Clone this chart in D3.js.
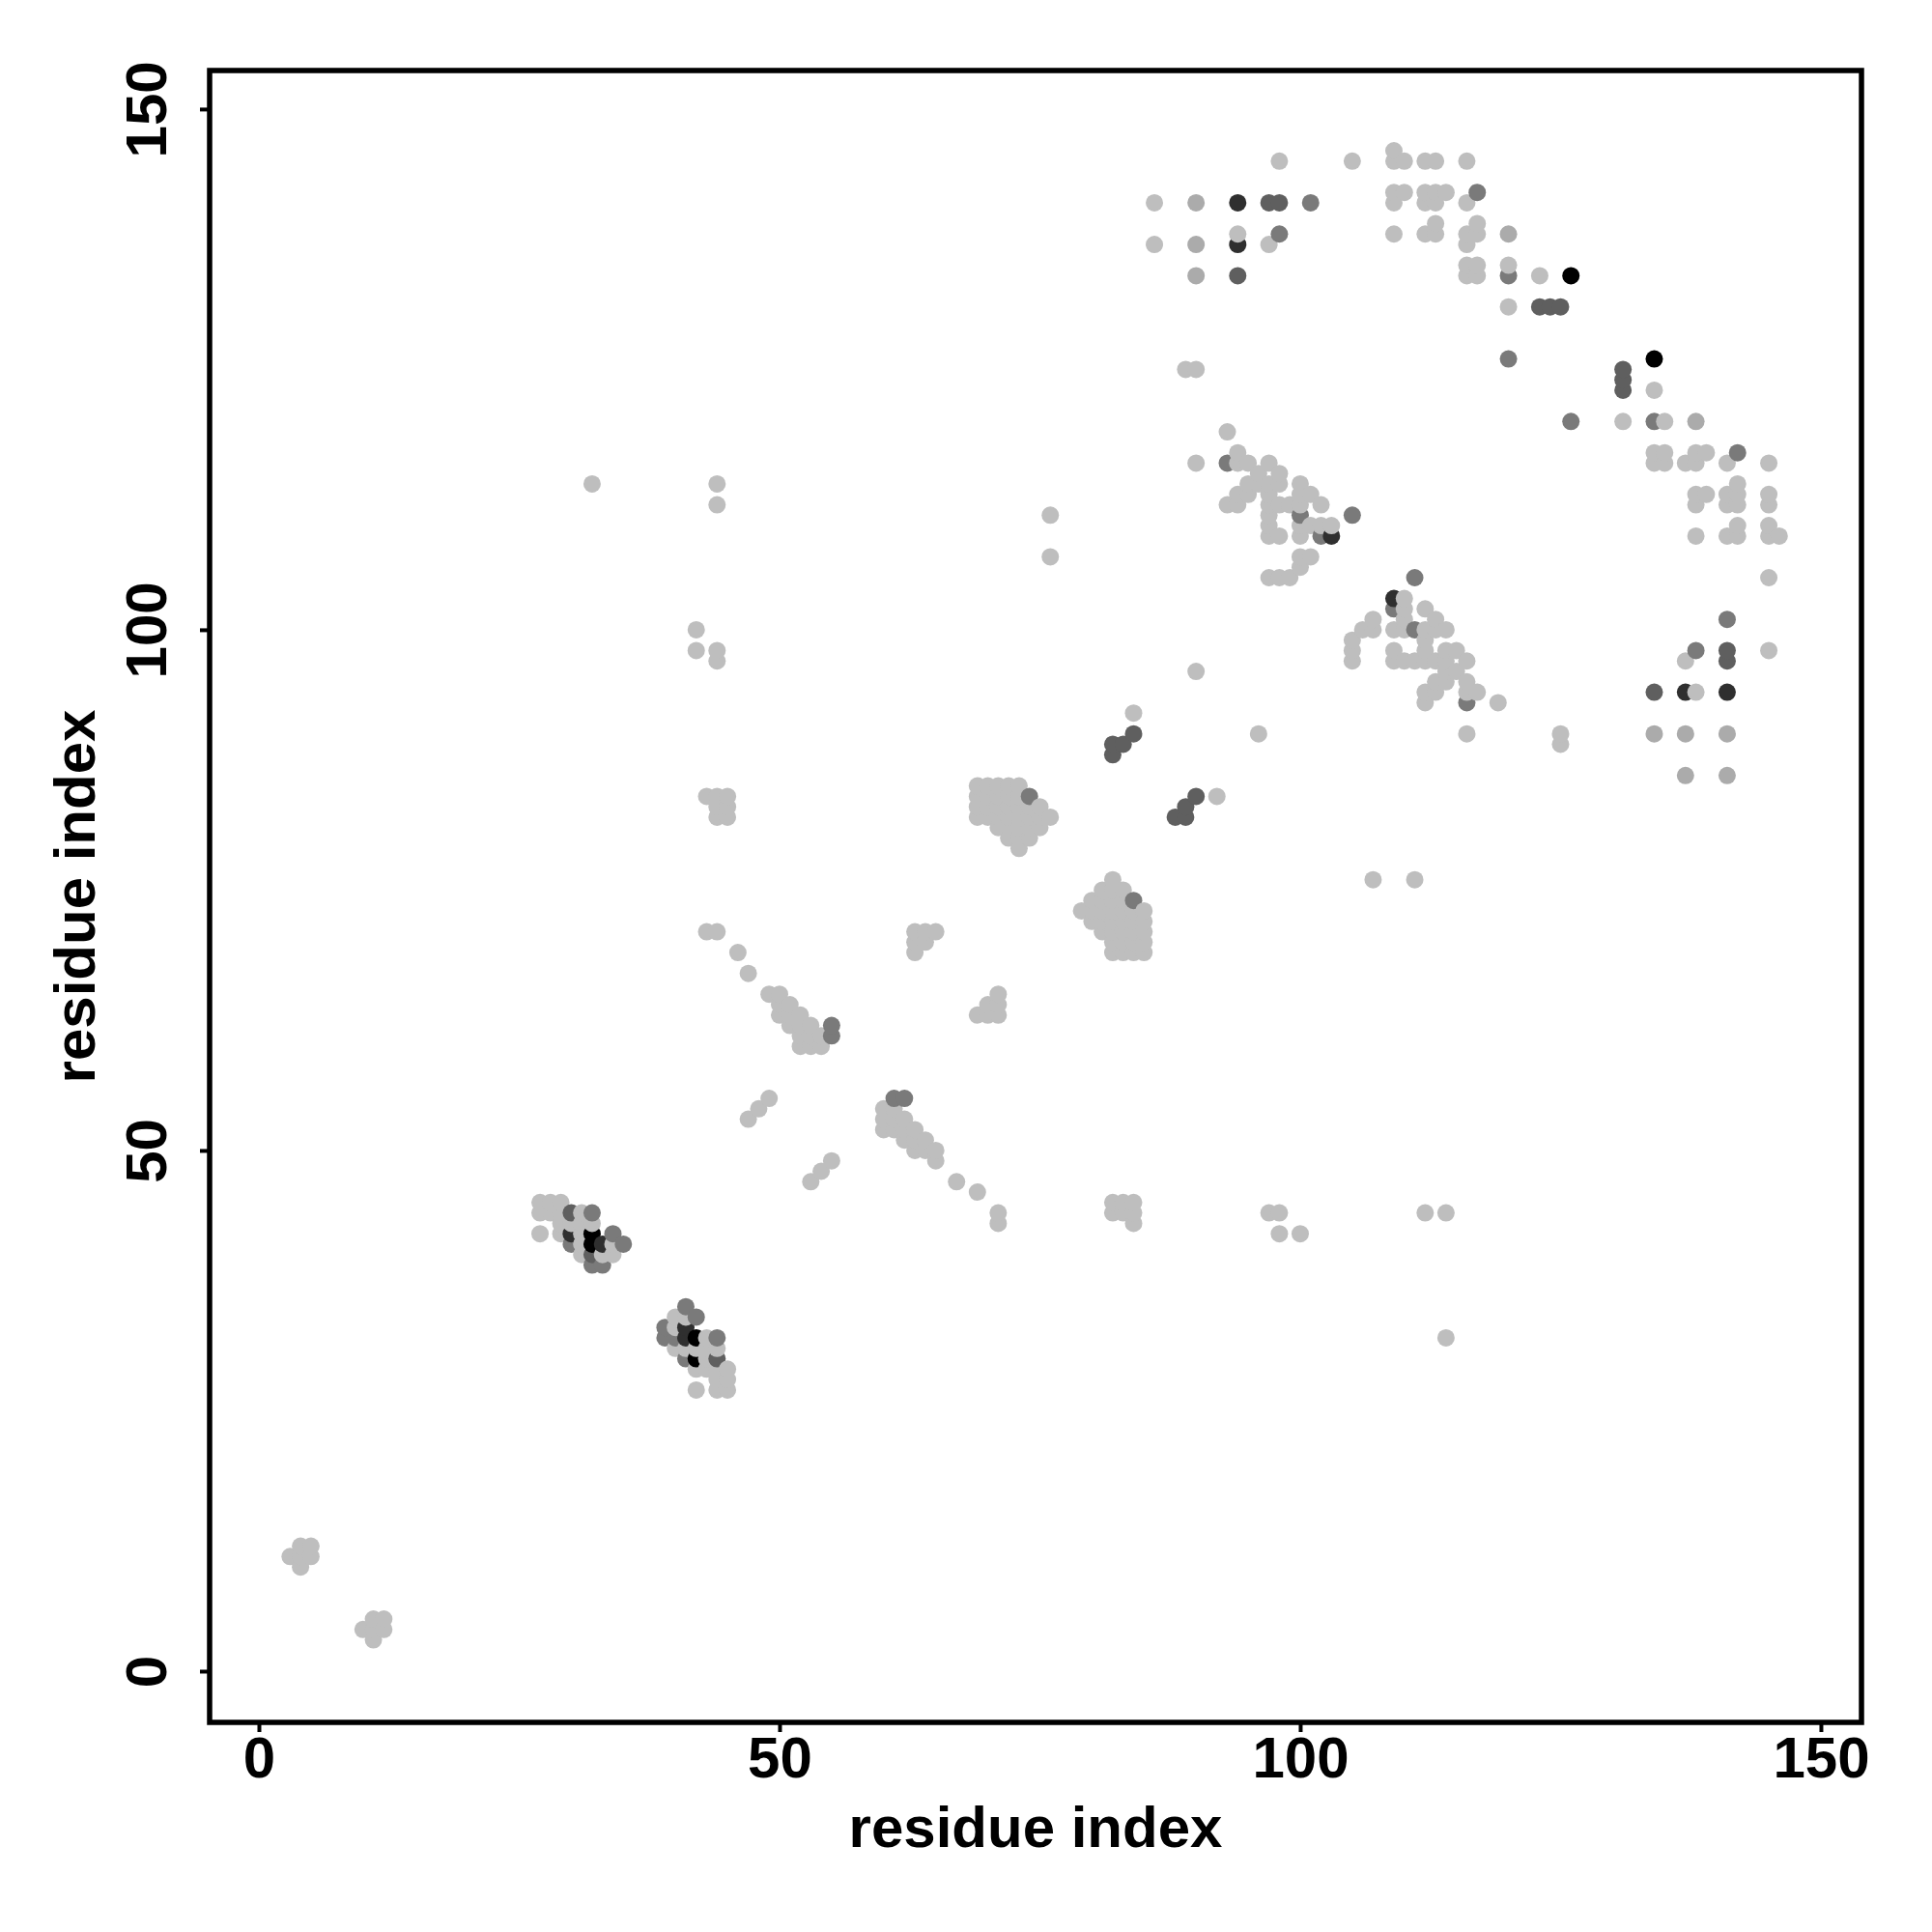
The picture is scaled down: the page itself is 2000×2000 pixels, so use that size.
<!DOCTYPE html>
<html>
<head>
<meta charset="utf-8">
<script src="https://cdn.jsdelivr.net/npm/d3@7"></script>
<style>
  body { margin: 0; background: #fff; }
  .chart text { font-family: "Liberation Sans", Arial, Helvetica, sans-serif; font-weight: bold; }
</style>
</head>
<body>
<div class="chart"></div>
<script>
// contact map, residue i vs residue j, grouped by shade (light -> black)
var faintContacts = [
  // N-terminal pair
  [3,11],[4,12],[5,12],[4,11],[5,11],[4,10],
  [10,4],[11,5],[12,5],[11,4],[12,4],[11,3],
  // strands 27-35 / 39-45
  [27,45],[28,45],[29,45],[27,44],[28,44],[29,44],[31,44],[27,42],[29,43],[30,43],[31,43],[32,43],
  [29,42],[31,42],[31,41],[34,41],[31,40],[33,40],[34,40],
  [45,27],[45,28],[45,29],[44,27],[44,28],[44,29],[44,31],[42,27],[43,29],[43,30],[43,31],[43,32],
  [42,29],[42,31],[41,31],[41,34],[40,31],[40,33],[40,34],
  // around the diagonal 45-70
  [43,71],[44,71],[46,69],[47,67],[71,43],[71,44],[69,46],[67,47],
  [47,53],[48,54],[49,55],[53,47],[54,48],[55,49],
  [49,65],[50,65],[50,64],[51,64],[50,63],[51,63],[52,63],[51,62],[52,62],[53,62],
  [52,61],[53,61],[54,61],[52,60],[53,60],[54,60],
  [65,49],[65,50],[64,50],[64,51],[63,50],[63,51],[63,52],[62,51],[62,52],[62,53],
  [61,52],[61,53],[61,54],[60,52],[60,53],[60,54],
  [63,71],[64,71],[65,71],[63,70],[64,70],[63,69],
  [71,63],[71,64],[71,65],[70,63],[70,64],[69,63],
  [43,84],[44,84],[45,84],[44,83],[45,83],[44,82],[45,82],
  [84,43],[84,44],[84,45],[83,44],[83,45],[82,44],[82,45],
  // block 69-76 / 79-85
  [69,85],[70,85],[71,85],[72,85],[73,85],
  [69,84],[70,84],[71,84],[72,84],[73,84],
  [69,83],[70,83],[71,83],[72,83],[73,83],[74,83],[75,83],
  [69,82],[70,82],[71,82],[72,82],[73,82],[74,82],[75,82],[76,82],
  [71,81],[72,81],[73,81],[74,81],[75,81],
  [72,80],[73,80],[74,80],[73,79],
  [85,69],[85,70],[85,71],[85,72],[85,73],
  [84,69],[84,70],[84,71],[84,72],[84,73],
  [83,69],[83,70],[83,71],[83,72],[83,73],[83,74],[83,75],
  [82,69],[82,70],[82,71],[82,72],[82,73],[82,74],[82,75],[82,76],
  [81,71],[81,72],[81,73],[81,74],[81,75],
  [80,72],[80,73],[80,74],[79,73],
  // scattered long range
  [84,92],[92,84],[90,96],[96,90],[125,89],[125,90],[89,125],[90,125],
  [76,111],[76,107],[111,76],[107,76],[32,114],[114,32],[44,114],[44,112],[114,44],[112,44],
  [42,100],[42,98],[44,98],[44,97],[100,42],[98,42],[98,44],[97,44],
  // block 90-105 / 105-119
  [93,119],[94,117],[90,116],[94,116],[95,116],[97,116],[98,115],[96,115],[95,114],[96,114],
  [94,113],[95,113],[93,112],[94,112],[97,114],[98,114],[97,113],[97,112],[98,112],[97,111],
  [97,110],[97,109],[98,109],[100,114],[100,113],[101,113],[102,112],[99,112],[100,112],[100,110],
  [100,109],[101,110],[102,110],[103,110],[101,107],[100,107],[100,106],[97,105],[98,105],[99,105],
  [119,93],[117,94],[116,90],[116,94],[116,95],[116,97],[115,98],[115,96],[114,95],[114,96],
  [113,94],[113,95],[112,93],[112,94],[114,97],[114,98],[113,97],[112,97],[112,98],[111,97],
  [110,97],[109,97],[109,98],[114,100],[113,100],[113,101],[112,102],[112,99],[112,100],[110,100],
  [109,100],[110,101],[110,102],[110,103],[107,101],[107,100],[106,100],[105,97],[105,98],[105,99],
  // C-terminal arc
  [98,145],[105,145],[109,145],[110,145],[112,145],[113,145],[116,145],[109,146],
  [109,142],[110,142],[112,142],[113,142],[114,142],
  [86,141],[109,141],[112,141],[113,141],[116,141],[113,139],[117,139],
  [94,138],[109,138],[112,138],[113,138],[116,138],[117,138],
  [86,137],[97,137],[116,137],[116,135],[117,135],[120,135],[116,134],[117,134],[123,134],
  [120,131],[134,123],[131,120],[135,120],
  [134,117],[135,117],[138,117],[139,117],[134,116],[135,116],[137,116],[138,116],[141,116],[145,116],
  [142,114],[138,113],[139,113],[141,113],[142,113],[145,113],[138,112],[141,112],[142,112],[145,112],
  [142,110],[145,110],[138,109],[141,109],[142,109],[145,109],[146,109],
  [145,105],[145,98],[137,97],[138,94]
];

var paleContacts = [
  [90,141],[90,137],[90,134],[134,90],[137,90],[141,90],[137,86],[141,86],[120,138],[138,120]
];

var midContacts = [
  [101,141],[98,138],[120,134],[134,120],[120,126],[126,120],[117,142],[142,117],[141,101],[138,98],
  [93,116],[116,93],[100,111],[111,100],[102,109],[109,102],[105,111],[111,105],
  [74,84],[84,74],[55,61],[55,62],[61,55],[62,55],
  [32,44],[30,41],[34,42],[35,41],[32,39],[33,39],
  [44,32],[41,30],[42,34],[41,35],[40,32],[39,32],[39,33]
];

var strongContacts = [
  [97,141],[98,141],[141,97],[141,98],[94,134],[134,94],
  [123,131],[124,131],[125,131],[131,123],[131,124],[131,125],
  [82,88],[82,89],[83,89],[84,90],[88,82],[89,82],[89,83],[90,84],
  [30,44],[32,40],[44,30]
];

var darkContacts = [
  [94,141],[141,94],[94,137],[137,94],[103,109],[109,103],
  [30,42],[33,41],[41,33],[41,32]
];

var blackContacts = [
  [126,134],[134,126],[32,42],[32,41],[42,32],[42,30]
];

var shadeNames = ["faint", "pale", "mid", "strong", "dark", "black"];
var xTicks = [0, 50, 100, 150];
var yTicks = [0, 50, 100, 150];

var svgWidth = 2000;
var svgHeight = 2000;
var box = { left: 217, right: 1927, top: 73, bottom: 1783 };

var svg = d3.select(".chart")
    .append("svg")
    .attr("width", svgWidth)
    .attr("height", svgHeight)
    .style("background", "#fff");

var xScale = d3.scaleLinear()
    .domain([-4.73, 153.9])
    .range([box.left, box.right]);

var yScale = d3.scaleLinear()
    .domain([-4.92, 153.7])
    .range([box.bottom, box.top]);

var shade = d3.scaleOrdinal()
    .domain(shadeNames)
    .range(["#bebebe", "#ababab", "#7a7a7a", "#5f5f5f", "#2f2f2f", "#000000"]);

var points = [];
[faintContacts, paleContacts, midContacts, strongContacts, darkContacts, blackContacts]
    .forEach(function(list, i) {
        list.forEach(function(p) {
            points.push({ i: p[0], j: p[1], level: shadeNames[i] });
        });
    });
// drawn residue by residue, like the original plot
points.sort(function(a, b) { return a.i - b.i || a.j - b.j; });

svg.append("g")
    .selectAll("circle")
    .data(points)
    .enter().append("circle")
        .attr("cx", function(d) { return xScale(d.i); })
        .attr("cy", function(d) { return yScale(d.j); })
        .attr("r", 9)
        .attr("fill", function(d) { return shade(d.level); });

// axes
var xAxis = svg.append("g")
    .attr("transform", "translate(0," + box.bottom + ")")
    .call(d3.axisBottom(xScale).tickValues(xTicks).tickSize(10));

var yAxis = svg.append("g")
    .attr("transform", "translate(" + box.left + ",0)")
    .call(d3.axisLeft(yScale).tickValues(yTicks).tickSize(10));

[xAxis, yAxis].forEach(function(ax) {
    ax.select(".domain").remove();
    ax.selectAll(".tick line").attr("stroke", "#000").attr("stroke-width", 4);
    ax.selectAll(".tick text")
        .attr("fill", "#000")
        .style("font-size", "60px");
});

xAxis.selectAll(".tick text")
    .attr("y", 57)
    .attr("dy", 0)
    .attr("text-anchor", "middle");

yAxis.selectAll(".tick text")
    .attr("transform", "rotate(-90)")
    .attr("x", 0)
    .attr("y", -45)
    .attr("dy", 0)
    .attr("text-anchor", "middle");

// frame
svg.append("rect")
    .attr("x", box.left)
    .attr("y", box.top)
    .attr("width", box.right - box.left)
    .attr("height", box.bottom - box.top)
    .attr("fill", "none")
    .attr("stroke", "#000")
    .attr("stroke-width", 5.5);

svg.append("text")
    .attr("x", (box.left + box.right) / 2)
    .attr("y", 1912)
    .attr("text-anchor", "middle")
    .style("font-size", "60px")
    .text("residue index");

svg.append("text")
    .attr("transform", "translate(98," + ((box.top + box.bottom) / 2) + ") rotate(-90)")
    .attr("text-anchor", "middle")
    .style("font-size", "60px")
    .text("residue index");
</script>
</body>
</html>
